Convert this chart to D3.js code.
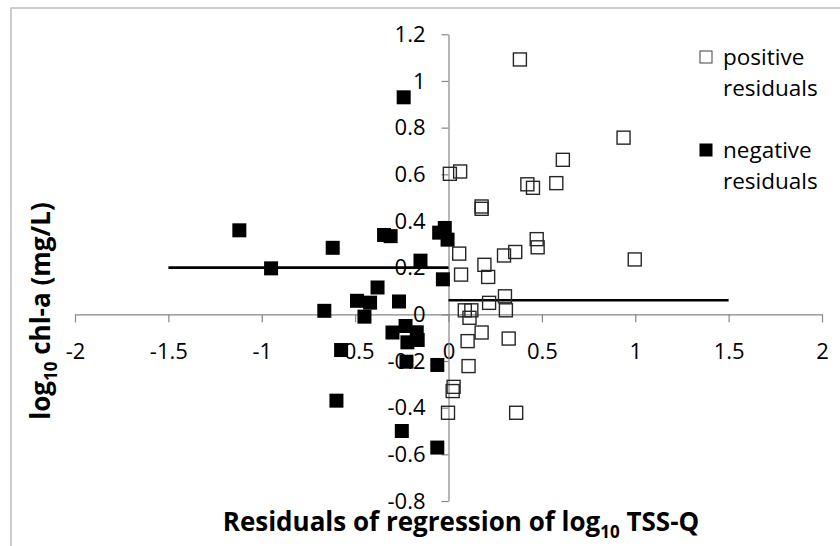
<!DOCTYPE html>
<html>
<head>
<meta charset="utf-8">
<script src="https://cdn.jsdelivr.net/npm/d3@7"></script>
<style>
  html, body { margin: 0; padding: 0; background: #fff; }
  svg { display: block; }
  text { font-family: "Open Sans", "Liberation Sans", sans-serif; fill: #000; }
</style>
</head>
<body>
<svg id="chart" width="840" height="546"></svg>
<script>
// ---- Data ----
const posX = [0.385, 0.94, 0.615, 0.425, 0.455, 0.58, 0.01, 0.065, 0.18, 0.18, 0.475, 0.48, 0.36, 0.30, 1.0, 0.06, 0.195, 0.07, 0.215, 0.22, 0.305, 0.31, 0.09, 0.125, 0.115, 0.18, 0.105, 0.325, 0.11, 0.03, 0.025, 0.0, 0.365];
const posY = [1.09, 0.755, 0.66, 0.555, 0.54, 0.56, 0.60, 0.61, 0.46, 0.45, 0.32, 0.285, 0.265, 0.25, 0.233, 0.258, 0.21, 0.168, 0.158, 0.047, 0.075, 0.015, 0.015, 0.015, -0.017, -0.08, -0.117, -0.106, -0.224, -0.313, -0.331, -0.424, -0.424];
const negX = [-0.24, -1.12, -0.62, -0.345, -0.31, -0.02, -0.05, -0.005, -0.95, -0.15, -0.03, -0.38, -0.49, -0.42, -0.265, -0.665, -0.45, -0.30, -0.23, -0.17, -0.22, -0.165, -0.575, -0.225, -0.06, -0.60, -0.25, -0.06];
const negY = [0.93, 0.36, 0.285, 0.34, 0.335, 0.37, 0.35, 0.32, 0.197, 0.23, 0.15, 0.115, 0.058, 0.05, 0.055, 0.015, -0.01, -0.078, -0.05, -0.077, -0.12, -0.11, -0.153, -0.203, -0.217, -0.37, -0.50, -0.571];
const negLineX = [-1.5, 0];
const negLineY = [0.2, 0.2];
const posLineX = [0, 1.5];
const posLineY = [0.06, 0.06];
const xTicks = [-2, -1.5, -1, -0.5, 0, 0.5, 1, 1.5, 2];
const yTicks = [-0.8, -0.6, -0.4, -0.2, 0, 0.2, 0.4, 0.6, 0.8, 1, 1.2];
const legendLabels = [["positive", "residuals"], ["negative", "residuals"]];

// ---- Chart ----
const svg = d3.select("#chart");
const x = d3.scaleLinear().domain([-2, 2]).range([75, 822]);
const y = d3.scaleLinear().domain([-0.8, 1.2]).range([501, 34.3]);
const fmt = d => String(d);

// outer frame
svg.append("rect").attr("x", 11).attr("y", 8).attr("width", 840).attr("height", 560)
  .attr("fill", "#fff").attr("stroke", "#bdbdbd").attr("stroke-width", 1.5);

// x axis
const gx = svg.append("g").attr("transform", `translate(0,${y(0)})`)
  .call(d3.axisBottom(x).tickValues(xTicks).tickFormat(fmt).tickSizeInner(8).tickSizeOuter(0).tickPadding(21));
// y axis
const gy = svg.append("g").attr("transform", `translate(${x(0)},0)`)
  .call(d3.axisLeft(y).tickValues(yTicks).tickFormat(fmt).tickSizeInner(7).tickSizeOuter(0).tickPadding(16));
[gx, gy].forEach(g => {
  g.select(".domain").attr("stroke", "#868686").attr("stroke-width", 1.2);
  g.selectAll(".tick line").attr("stroke", "#868686").attr("stroke-width", 1.2);
  g.selectAll(".tick text").attr("font-size", 22).attr("font-family", "'Open Sans', sans-serif").attr("fill", "#000");
});

// regression lines
const line = d3.line().x(d => x(d[0])).y(d => y(d[1]));
svg.append("path").datum(negLineX.map((v, i) => [v, negLineY[i]])).attr("d", line)
  .attr("stroke", "#000").attr("stroke-width", 2.6).attr("fill", "none");
svg.append("path").datum(posLineX.map((v, i) => [v, posLineY[i]])).attr("d", line)
  .attr("stroke", "#000").attr("stroke-width", 2.6).attr("fill", "none");

const S = 14;
// positive residuals (open squares)
svg.append("g").selectAll("rect").data(posX.map((v, i) => [v, posY[i]])).join("rect")
  .attr("x", d => x(d[0]) - S / 2).attr("y", d => y(d[1]) - S / 2)
  .attr("width", S - 1).attr("height", S - 1)
  .attr("fill", "none").attr("stroke", "#262626").attr("stroke-width", 1.4);
// negative residuals (filled squares)
svg.append("g").selectAll("rect").data(negX.map((v, i) => [v, negY[i]])).join("rect")
  .attr("x", d => x(d[0]) - S / 2).attr("y", d => y(d[1]) - S / 2)
  .attr("width", S).attr("height", S)
  .attr("fill", "#000");

// legend
const lg = svg.append("g");
const legY = [57, 150];
legendLabels.forEach((lines, i) => {
  lg.append("rect").attr("x", 700).attr("y", legY[i] - 6).attr("width", 12).attr("height", 12)
    .attr("fill", i === 0 ? "#fff" : "#000").attr("stroke", i === 0 ? "#404040" : "#000").attr("stroke-width", 1);
  lines.forEach((t, j) => {
    lg.append("text").attr("x", 723).attr("y", legY[i] + j * 31).attr("dy", "0.35em")
      .attr("font-size", 22.5).text(t);
  });
});

// axis titles
const xt = svg.append("text").attr("x", 461).attr("y", 531).attr("text-anchor", "middle")
  .attr("font-size", 26).attr("font-weight", "bold");
xt.append("tspan").text("Residuals of regression of log");
xt.append("tspan").attr("font-size", 17).attr("dy", 7).text("10");
xt.append("tspan").attr("dy", -7).text(" TSS-Q");

const yt = svg.append("text").attr("transform", "translate(50,311) rotate(-90)").attr("text-anchor", "middle")
  .attr("font-size", 26).attr("font-weight", "bold");
yt.append("tspan").text("log");
yt.append("tspan").attr("font-size", 17).attr("dy", 7).text("10");
yt.append("tspan").attr("dy", -7).text(" chl-a (mg/L)");
</script>
</body>
</html>
